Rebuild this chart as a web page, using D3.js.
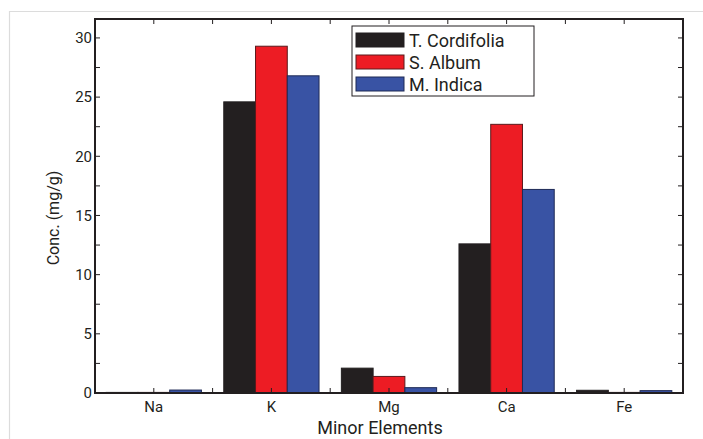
<!DOCTYPE html>
<html>
<head>
<meta charset="utf-8">
<style>
  body { margin: 0; background: #fff; }
  text { font-family: Roboto, sans-serif; fill: #231f20; }
</style>
</head>
<body>
<div id="chart-area"></div>
<script src="https://d3js.org/d3.v7.min.js"></script>
<script>

const elements = ["Na", "K", "Mg", "Ca", "Fe"]
const species = ["T. Cordifolia", "S. Album", "M. Indica"]
const tCordifolia = [0.05, 24.6, 2.1, 12.6, 0.23]
const sAlbum = [0.05, 29.3, 1.4, 22.7, 0.05]
const mIndica = [0.25, 26.8, 0.45, 17.2, 0.2]
const yTicks = [0, 5, 10, 15, 20, 25, 30]

const seriesValues = [tCordifolia, sAlbum, mIndica]
const colors = ["#231f20", "#ed1c24", "#3953a4"]
const strokes = ["#231f20", "#5a1a1c", "#1f2a55"]

const W = 703, H = 439
const MARGIN = { LEFT: 95, RIGHT: 20, TOP: 19, BOTTOM: 46 }
const WIDTH = W - MARGIN.LEFT - MARGIN.RIGHT
const HEIGHT = H - MARGIN.TOP - MARGIN.BOTTOM

const svg = d3.select("#chart-area")
  .append("svg")
    .attr("width", W)
    .attr("height", H)

// light outer border
svg.append("path")
  .attr("d", `M9.5,${H} V11.5 H${W}`)
  .attr("fill", "none")
  .attr("stroke", "#dcdcdc")
  .attr("stroke-width", 1.2)

const g = svg.append("g")
  .attr("transform", `translate(${MARGIN.LEFT}, ${MARGIN.TOP})`)

// scales
const x0 = d3.scaleBand()
  .domain(elements)
  .range([0, WIDTH])
  .paddingInner(0.19)
  .paddingOuter(0.095)

const x1 = d3.scaleBand()
  .domain(species)
  .range([0, x0.bandwidth()])

const y = d3.scaleLinear()
  .domain([0, 31.6])
  .range([HEIGHT, 0])

// bars
species.forEach((s, si) => {
  g.selectAll(".bar-" + si)
    .data(elements.map((e, i) => ({ e: e, v: seriesValues[si][i] })))
    .enter()
    .append("rect")
      .attr("x", d => x0(d.e) + x1(s))
      .attr("y", d => y(d.v))
      .attr("width", x1.bandwidth())
      .attr("height", d => HEIGHT - y(d.v))
      .attr("fill", colors[si])
      .attr("stroke", strokes[si])
      .attr("stroke-width", 1)
})

// tick marks (inward) - x ticks at centers and boundaries
const step = x0.step()
const xTickPos = d3.range(1, elements.length * 2).map(k => k * step / 2)
const yMinor = d3.range(0, 31.6, 2.5)

const ticks = g.append("g")
  .attr("stroke", "#231f20")
  .attr("stroke-width", 1)
ticks.selectAll(".xb").data(xTickPos).enter().append("line")
  .attr("x1", d => d).attr("x2", d => d)
  .attr("y1", HEIGHT).attr("y2", HEIGHT - 5)
ticks.selectAll(".xt").data(xTickPos).enter().append("line")
  .attr("x1", d => d).attr("x2", d => d)
  .attr("y1", 0).attr("y2", 5)
ticks.selectAll(".yl").data(yMinor).enter().append("line")
  .attr("x1", 0).attr("x2", 5)
  .attr("y1", d => y(d)).attr("y2", d => y(d))
ticks.selectAll(".yr").data(yMinor).enter().append("line")
  .attr("x1", WIDTH).attr("x2", WIDTH - 5)
  .attr("y1", d => y(d)).attr("y2", d => y(d))

// frame
g.append("rect")
  .attr("width", WIDTH)
  .attr("height", HEIGHT)
  .attr("fill", "none")
  .attr("stroke", "#231f20")
  .attr("stroke-width", 2)

// axis labels
const yAxis = d3.axisLeft(y).tickValues(yTicks).tickSize(0).tickPadding(3)
g.append("g")
  .call(yAxis)
  .call(a => a.select(".domain").remove())
  .selectAll("text")
    .style("font-family", "Roboto, sans-serif")
    .style("font-size", "15px")
    .style("fill", "#231f20")

const xAxis = d3.axisBottom(x0).tickSize(0).tickPadding(8)
g.append("g")
  .attr("transform", `translate(0, ${HEIGHT})`)
  .call(xAxis)
  .call(a => a.select(".domain").remove())
  .selectAll("text")
    .style("font-family", "Roboto, sans-serif")
    .style("font-size", "15px")
    .style("fill", "#231f20")

g.append("text")
  .attr("x", WIDTH / 2 - 9)
  .attr("y", HEIGHT + 41)
  .attr("text-anchor", "middle")
  .attr("font-size", "18px")
  .text("Minor Elements")

g.append("text")
  .attr("transform", `translate(-36, ${199}) rotate(-90)`)
  .attr("text-anchor", "middle")
  .attr("font-size", "16px")
  .text("Conc. (mg/g)")

// legend
const legend = svg.append("g")
  .attr("transform", "translate(352, 26)")

legend.append("rect")
  .attr("width", 182)
  .attr("height", 70)
  .attr("fill", "#fff")
  .attr("stroke", "#231f20")
  .attr("stroke-width", 1)

species.forEach((s, i) => {
  const row = legend.append("g")
    .attr("transform", `translate(4, ${7 + i * 22})`)
  row.append("rect")
    .attr("width", 48)
    .attr("height", 14)
    .attr("fill", colors[i])
    .attr("stroke", strokes[i])
  row.append("text")
    .attr("x", 53)
    .attr("y", 13.5)
    .attr("font-size", "18px")
    .text(s)
})

</script>
</body>
</html>
